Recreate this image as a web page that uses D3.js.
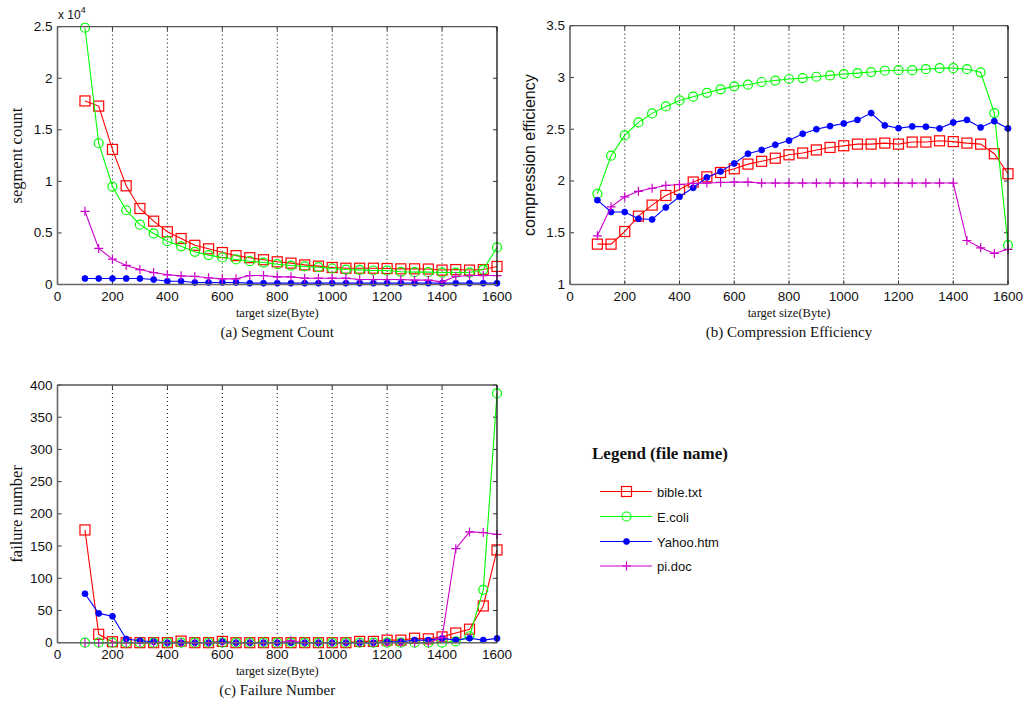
<!DOCTYPE html>
<html><head><meta charset="utf-8">
<script src="https://cdn.jsdelivr.net/npm/d3@7"></script>
<style>
body{margin:0;background:#fff;}
svg{display:block;}
</style></head>
<body><svg id="c" width="1023" height="702"></svg>
<script>
const xs = [100,150,200,250,300,350,400,450,500,550,600,650,700,750,800,850,900,950,1000,1050,1100,1150,1200,1250,1300,1350,1400,1450,1500,1550,1600];
const seriesNames = ["bible.txt","E.coli","Yahoo.htm","pi.doc"];
const seriesColors = ["#ff0000","#00ff00","#0000ff","#cc00cc"];
const seriesMarkers = ["square","circle","dot","plus"];

// (a) segment count, x 10^4
const segBible = [1.78,1.73,1.31,0.957,0.737,0.614,0.511,0.446,0.38,0.346,0.31,0.28,0.26,0.24,0.22,0.207,0.19,0.178,0.165,0.158,0.158,0.158,0.155,0.152,0.152,0.15,0.14,0.145,0.14,0.145,0.175];
const segEcoli = [2.49,1.37,0.95,0.72,0.58,0.495,0.42,0.37,0.317,0.285,0.262,0.243,0.226,0.213,0.197,0.184,0.175,0.168,0.155,0.145,0.142,0.136,0.136,0.123,0.12,0.12,0.116,0.116,0.116,0.145,0.36];
const segYahoo = [0.058,0.058,0.058,0.058,0.058,0.048,0.032,0.032,0.02,0.02,0.02,0.02,0.013,0.013,0.013,0.013,0.013,0.013,0.013,0.013,0.013,0.013,0.013,0.013,0.013,0.013,0.013,0.013,0.013,0.013,0.013];
const segPi = [0.71,0.35,0.246,0.185,0.145,0.116,0.094,0.084,0.078,0.065,0.055,0.055,0.087,0.087,0.074,0.074,0.061,0.061,0.061,0.061,0.048,0.048,0.048,0.048,0.042,0.042,0.026,0.078,0.087,0.087,0.087];

// (b) compression efficiency
const ceBible = [1.39,1.39,1.512,1.66,1.767,1.86,1.918,1.99,2.04,2.082,2.118,2.163,2.19,2.22,2.253,2.27,2.30,2.324,2.34,2.356,2.356,2.366,2.356,2.376,2.376,2.388,2.38,2.366,2.356,2.263,2.07];
const ceEcoli = [1.876,2.244,2.44,2.566,2.653,2.72,2.778,2.814,2.852,2.885,2.914,2.93,2.956,2.97,2.985,2.994,3.007,3.02,3.033,3.042,3.052,3.065,3.07,3.07,3.08,3.09,3.09,3.08,3.05,2.656,1.38];
const ceYahoo = [1.815,1.70,1.70,1.635,1.628,1.745,1.847,1.934,2.034,2.092,2.17,2.263,2.30,2.35,2.39,2.456,2.50,2.53,2.556,2.59,2.656,2.537,2.51,2.527,2.524,2.508,2.566,2.59,2.517,2.578,2.508];
const cePi = [1.47,1.75,1.847,1.90,1.93,1.957,1.966,1.976,1.98,1.986,1.989,1.989,1.98,1.98,1.98,1.98,1.98,1.98,1.98,1.98,1.98,1.98,1.98,1.98,1.98,1.98,1.98,1.425,1.354,1.30,1.34];

// (c) failure number
const fnBible = [175,13,1.5,0,0,0,0,2.5,0,0,2,0,0,0,0,0,0,0,0,0,2,2,4,4,7,6,9,15,21,57,144];
const fnEcoli = [0,0,0,0,0,0,0,0,0,0,0,0,0,0,0,0,0,0,0,0,0,0,0,0,0,0,0,2,10,82,387];
const fnYahoo = [76,45.5,41,5.7,3,1.5,0,0,0,0,1.5,0,0,0,0,0,0,0,0,0,0,0,1.5,1.5,4,4,6.7,4,7,4,6.7];
const fnPi = [0,0,0,0,0,0,0,0,0,0,0,0,0,0,0,3,0,0,0,0,0,0,0,0,0,0,8,146,172,171,168];

const xTicks = [0,200,400,600,800,1000,1200,1400,1600];
const gridTicks = [200,400,600,800,1000,1200,1400];
const yTicksA = [0,0.5,1,1.5,2,2.5];
const yTicksB = [1,1.5,2,2.5,3,3.5];
const yTicksC = [0,50,100,150,200,250,300,350,400];

const svg = d3.select("#c");
const sans = "'Liberation Sans', Arial, sans-serif";
const serif = "'Liberation Serif', 'Times New Roman', serif";

function marker(g, type, color, x, y){
  if(type==="square"){
    g.append("rect").attr("x",x-5).attr("y",y-5).attr("width",10).attr("height",10)
      .attr("fill","none").attr("stroke",color).attr("stroke-width",1.2);
  } else if(type==="circle"){
    g.append("circle").attr("cx",x).attr("cy",y).attr("r",4.5)
      .attr("fill","none").attr("stroke",color).attr("stroke-width",1.2);
  } else if(type==="dot"){
    g.append("circle").attr("cx",x).attr("cy",y).attr("r",3)
      .attr("fill",color).attr("stroke",color).attr("stroke-width",0.8);
  } else {
    g.append("path").attr("d",`M${x-4.5},${y}H${x+4.5}M${x},${y-4.5}V${y+4.5}`)
      .attr("stroke",color).attr("stroke-width",1.2);
  }
}

function panel(opt){
  const x = d3.scaleLinear().domain([0,1600]).range([opt.x0,opt.x1]);
  const y = d3.scaleLinear().domain(opt.ydom).range([opt.y1,opt.y0]);
  const g = svg.append("g");
  // grid
  g.selectAll(".grid").data(gridTicks).join("line")
    .attr("x1",d=>x(d)).attr("x2",d=>x(d)).attr("y1",opt.y0).attr("y2",opt.y1)
    .attr("stroke","#000").attr("stroke-width",1).attr("stroke-dasharray","1,3");
  // ticks inside
  const tl = 4;
  opt.yticks.forEach(t=>{
    g.append("line").attr("x1",opt.x0).attr("x2",opt.x0+tl).attr("y1",y(t)).attr("y2",y(t)).attr("stroke","#333");
    g.append("line").attr("x1",opt.x1).attr("x2",opt.x1-tl).attr("y1",y(t)).attr("y2",y(t)).attr("stroke","#333");
  });
  xTicks.forEach(t=>{
    g.append("line").attr("x1",x(t)).attr("x2",x(t)).attr("y1",opt.y1).attr("y2",opt.y1-tl).attr("stroke","#333");
    g.append("line").attr("x1",x(t)).attr("x2",x(t)).attr("y1",opt.y0).attr("y2",opt.y0+tl).attr("stroke","#333");
  });
  // series
  opt.data.forEach((arr,i)=>{
    const line = d3.line().x((d,j)=>x(xs[j])).y(d=>y(d));
    g.append("path").attr("d",line(arr)).attr("fill","none")
      .attr("stroke",seriesColors[i]).attr("stroke-width",1.1);
    const mg = g.append("g");
    arr.forEach((v,j)=>marker(mg,seriesMarkers[i],seriesColors[i],x(xs[j]),y(v)));
  });
  // box
  g.append("line").attr("x1",opt.x0).attr("x2",opt.x1).attr("y1",opt.y0).attr("y2",opt.y0).attr("stroke","#555").attr("stroke-width",1.3);
  g.append("line").attr("x1",opt.x1).attr("x2",opt.x1).attr("y1",opt.y0).attr("y2",opt.y1).attr("stroke","#111").attr("stroke-width",1.3);
  g.append("line").attr("x1",opt.x0).attr("x2",opt.x0).attr("y1",opt.y0).attr("y2",opt.y1).attr("stroke","#666").attr("stroke-width",1.6);
  g.append("line").attr("x1",opt.x0).attr("x2",opt.x1).attr("y1",opt.y1).attr("y2",opt.y1).attr("stroke","#666").attr("stroke-width",1.6);
  // tick labels
  g.selectAll(".yl").data(opt.yticks).join("text")
    .attr("x",opt.x0-5).attr("y",d=>y(d)+4.5).attr("text-anchor","end")
    .attr("font-family",sans).attr("font-size",13.5).attr("fill","#111")
    .text(d=>String(d));
  g.selectAll(".xl").data(xTicks).join("text")
    .attr("x",d=>x(d)).attr("y",opt.y1+16).attr("text-anchor","middle")
    .attr("font-family",sans).attr("font-size",13.5).attr("fill","#111")
    .text(d=>String(d));
  g.append("text").attr("x",(opt.x0+opt.x1)/2).attr("y",opt.y1+32).attr("text-anchor","middle")
    .attr("font-family",serif).attr("font-size",12.5).attr("fill","#111").text("target size(Byte)");
  g.append("text").attr("x",(opt.x0+opt.x1)/2).attr("y",opt.y1+52).attr("text-anchor","middle")
    .attr("font-family",serif).attr("font-size",15).attr("fill","#111").text(opt.caption);
  g.append("text").attr("transform",`translate(${opt.ylx},${(opt.y0+opt.y1)/2}) rotate(-90)`)
    .attr("text-anchor","middle").attr("font-family",opt.ylfont).attr("font-size",opt.ylsize).attr("fill","#111")
    .text(opt.ylabel);
  return g;
}

const ga = panel({x0:57.5,x1:497,y0:26.7,y1:284.5,ydom:[0,2.5],yticks:yTicksA,
  data:[segBible,segEcoli,segYahoo,segPi],caption:"(a) Segment Count",ylabel:"segment count",ylx:22,ylfont:serif,ylsize:16.5});
const xl = ga.append("text").attr("x",58).attr("y",19).attr("font-family",sans).attr("font-size",12).attr("fill","#111");
xl.append("tspan").text("x 10");
xl.append("tspan").attr("dy",-6).attr("font-size",9).text("4");

panel({x0:570,x1:1008,y0:25.7,y1:284.5,ydom:[1,3.5],yticks:yTicksB,
  data:[ceBible,ceEcoli,ceYahoo,cePi],caption:"(b) Compression Efficiency",ylabel:"compression efficiency",ylx:535,ylfont:sans,ylsize:16});

panel({x0:57.5,x1:497,y0:385,y1:642.7,ydom:[0,400],yticks:yTicksC,
  data:[fnBible,fnEcoli,fnYahoo,fnPi],caption:"(c) Failure Number",ylabel:"failure number",ylx:22,ylfont:serif,ylsize:16.5});

// legend
const lg = svg.append("g");
lg.append("text").attr("x",592).attr("y",459).attr("font-family",serif).attr("font-weight","bold")
  .attr("font-size",17).attr("fill","#111").text("Legend (file name)");
const rowsY = [491.5,516.5,541.5,566];
seriesNames.forEach((n,i)=>{
  lg.append("line").attr("x1",600).attr("x2",652).attr("y1",rowsY[i]).attr("y2",rowsY[i])
    .attr("stroke",seriesColors[i]).attr("stroke-width",1.1);
  marker(lg,seriesMarkers[i],seriesColors[i],626.5,rowsY[i]);
  lg.append("text").attr("x",657).attr("y",rowsY[i]+5).attr("font-family",sans).attr("font-size",13)
    .attr("fill","#111").text(n);
});
</script></body></html>
